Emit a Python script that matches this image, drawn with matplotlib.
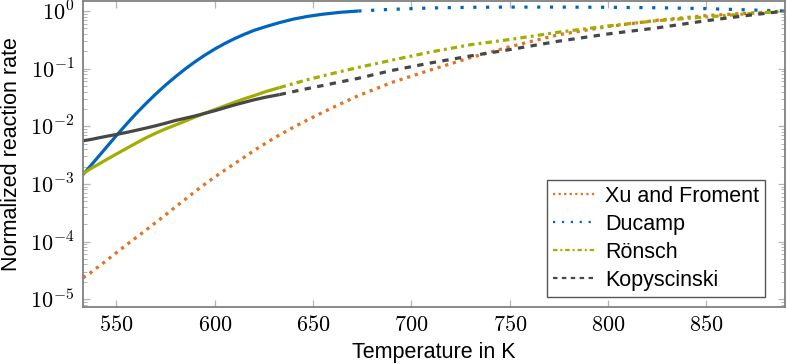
import numpy as np
import matplotlib
matplotlib.use("Agg")
import matplotlib.pyplot as plt
from matplotlib.ticker import FixedLocator, FuncFormatter, LogLocator, NullFormatter

plt.rcParams["font.family"] = ["Liberation Sans", "DejaVu Sans"]
plt.rcParams["mathtext.fontset"] = "cm"

# Temperatur in K (Stützstellen)
temperatura = [533, 537, 541, 545, 550, 555, 560, 565, 570, 575, 580, 585,
               590, 595, 600, 605, 610, 615, 620, 626, 633, 640, 647, 655,
               664, 673, 690, 710, 730, 750, 775, 800, 825, 850, 870, 890]

# Normalisierte Reaktionsraten
xu_froment = [2.34e-5, 2.9e-5, 3.7e-5, 4.7e-5, 6.4e-5, 8.7e-5, 1.17e-4,
              1.58e-4, 2.14e-4, 2.9e-4, 3.98e-4, 5.4e-4, 7.4e-4, 9.9e-4,
              1.32e-3, 1.72e-3, 2.24e-3, 2.9e-3, 3.8e-3, 5.1e-3, 7.1e-3,
              9.6e-3, 0.0128, 0.0175, 0.0245, 0.0340, 0.0575, 0.0955, 0.155,
              0.240, 0.389, 0.537, 0.692, 0.832, 0.912, 1.0]
ducamp = [1.45e-3, 2.09e-3, 3.02e-3, 4.37e-3, 6.92e-3, 0.0108, 0.0166,
          0.0248, 0.0363, 0.0519, 0.0724, 0.0989, 0.132, 0.172, 0.219, 0.272,
          0.331, 0.394, 0.462, 0.537, 0.631, 0.724, 0.804, 0.881, 0.951, 1.0,
          1.07, 1.13, 1.16, 1.17, 1.17, 1.16, 1.14, 1.10, 1.05, 1.0]
ronsch = [1.5e-3, 1.85e-3, 2.2e-3, 2.65e-3, 3.3e-3, 4.1e-3, 5.1e-3, 6.3e-3,
          7.6e-3, 9.0e-3, 0.0105, 0.0123, 0.0145, 0.0168, 0.0195, 0.0225,
          0.026, 0.030, 0.034, 0.040, 0.047, 0.055, 0.064, 0.075, 0.089,
          0.105, 0.14, 0.195, 0.26, 0.32, 0.43, 0.55, 0.68, 0.79, 0.89, 1.0]
kopyscinski = [5.6e-3, 5.9e-3, 6.3e-3, 6.7e-3, 7.2e-3, 7.8e-3, 8.5e-3,
               9.3e-3, 0.0102, 0.0113, 0.0126, 0.0138, 0.0151, 0.0168, 0.0186,
               0.0209, 0.0234, 0.0260, 0.0288, 0.0320, 0.0355, 0.040, 0.045,
               0.051, 0.059, 0.068, 0.093, 0.126, 0.166, 0.214, 0.30, 0.40,
               0.51, 0.68, 0.83, 1.0]

# Gültigkeitsbereich (durchgezogen bis zu dieser Temperatur)
limite_ducamp = 673
limite_ronsch = 633
limite_kopyscinski = 633

c_naranja = "#E37222"
c_azul = "#0065BD"
c_verde = "#A2AD00"
c_gris = "#474747"

fig = plt.figure(figsize=(7.87, 3.64), dpi=100)
ax = fig.add_axes([0.1055, 0.1566, 0.892, 0.841])

T = np.array(temperatura)


def graficar(valores, limite, color, estilo, etiqueta):
    """Solid inside the validity range, styled line outside."""
    v = np.array(valores)
    if limite is not None:
        dentro = T <= limite
        ax.plot(T[dentro], v[dentro], color=color, lw=2.3, solid_capstyle="butt")
        fuera = T >= limite
        ax.plot(T[fuera], v[fuera], color=color, lw=2.3, linestyle=estilo)
    else:
        ax.plot(T, v, color=color, lw=2.3, linestyle=estilo)
    # handle for the legend
    ax.plot([], [], color=color, lw=1.6, linestyle=estilo, label=etiqueta)


graficar(xu_froment, None, c_naranja, (0, (1, 1.5)), "Xu and Froment")
graficar(ducamp, limite_ducamp, c_azul, (0, (1, 3.0)), "Ducamp")
graficar(ronsch, limite_ronsch, c_verde, (0, (2.0, 1.3, 0.9, 1.3)), "Rönsch")
graficar(kopyscinski, limite_kopyscinski, c_gris, (0, (2.0, 2.0)), "Kopyscinski")

ax.set_yscale("log")
ax.set_xlim(533, 890)
ax.set_ylim(7.3e-6, 1.5)

ax.xaxis.set_major_locator(FixedLocator([550, 600, 650, 700, 750, 800, 850]))
ax.xaxis.set_major_formatter(FuncFormatter(lambda v, p: r"$\mathrm{%d}$" % v))
ax.yaxis.set_major_locator(LogLocator(base=10, numticks=10))
ax.yaxis.set_major_formatter(FuncFormatter(lambda v, p: r"$10^{%d}$" % round(np.log10(v))))
ax.yaxis.set_minor_locator(LogLocator(base=10, subs=np.arange(2, 10), numticks=20))
ax.yaxis.set_minor_formatter(NullFormatter())

ax.tick_params(which="both", direction="in", top=True, right=True,
               color="#b5b5b5", labelsize=16, pad=6)
ax.tick_params(which="major", length=5, width=0.9)
ax.tick_params(which="minor", length=3, width=0.7)

for lado in ax.spines.values():
    lado.set_color("#808080")
    lado.set_linewidth(1.3)

ax.set_xlabel("Temperature in K", fontsize=15.5, labelpad=4)
ax.set_ylabel("Normalized reaction rate", fontsize=15.5, labelpad=6)

leyenda = ax.legend(loc="lower right", bbox_to_anchor=(0.9715, 0.0326),
                    borderaxespad=0, fontsize=15.5, fancybox=False,
                    handlelength=2.0, handletextpad=0.4, labelspacing=0.33,
                    borderpad=0.28, framealpha=1)
leyenda.get_frame().set_edgecolor("#555555")
leyenda.get_frame().set_linewidth(1.0)

fig.savefig("out.png", dpi=100)
